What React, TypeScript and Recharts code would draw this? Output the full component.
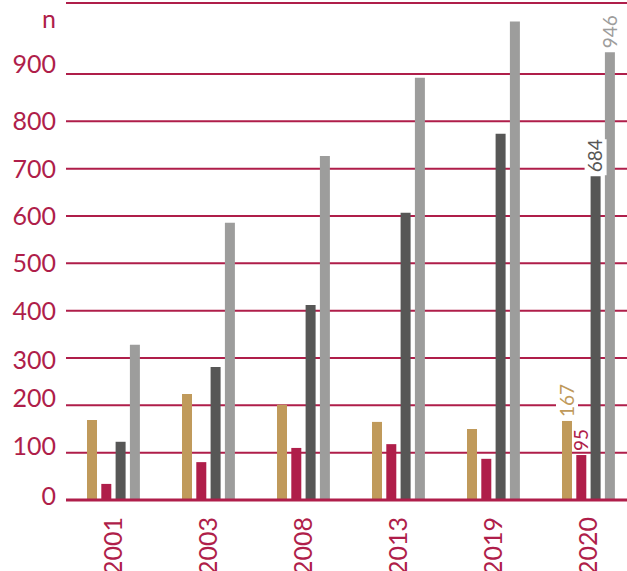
import { BarChart, Bar, XAxis, YAxis, CartesianGrid, LabelList } from 'recharts'

const years = ['2001', '2003', '2008', '2013', '2019', '2020']
const goldValues = [169, 224, 201, 165, 150, 167]
const redValues = [34, 80, 110, 118, 87, 95]
const darkValues = [123, 281, 412, 607, 774, 684]
const greyValues = [328, 586, 727, 892, 1011, 946]
const yTicks = [0, 100, 200, 300, 400, 500, 600, 700, 800, 900]

const CRIMSON = '#AF1E4A'
const GOLD = '#C09A5B'
const DARK = '#575756'
const GREY = '#9D9D9C'
const FONT = 'Lato, "Open Sans", sans-serif'

const last = years.length - 1

// only the latest year carries a value label
const data = years.map((year, i) => ({
  year,
  gold: goldValues[i],
  red: redValues[i],
  dark: darkValues[i],
  grey: greyValues[i],
  goldLabel: i === last ? goldValues[i] : undefined,
  redLabel: i === last ? redValues[i] : undefined,
  darkLabel: i === last ? darkValues[i] : undefined,
  greyLabel: i === last ? greyValues[i] : undefined,
}))

// small per-tick nudges for the value axis labels
const tickNudge: Record<number, number> = { 0: -4, 100: -7, 200: -7, 300: 2, 900: -10 }

function ValueTick({ x, y, payload }: any) {
  const dy = tickNudge[payload.value] ?? 0
  return (
    <text x={x} y={y + dy} dy="0.36em" textAnchor="end" fill={CRIMSON} fontSize={25} fontFamily={FONT}>
      {payload.value}
    </text>
  )
}

function YearTick({ x, y, payload }: any) {
  return (
    <text
      transform={`translate(${x - 1},${y + 17}) rotate(-90)`}
      textAnchor="end"
      dy="0.36em"
      fill={CRIMSON}
      fontSize={25}
      fontFamily={FONT}
    >
      {payload.value}
    </text>
  )
}

const valueLabel = (color: string, withBg: boolean) => (props: any) => {
  const { x, y, width, value } = props
  if (value == null) return null
  const cx = Number(x) + Number(width) / 2
  const base = Number(y) - 4
  const len = String(value).length * 10
  return (
    <g>
      {withBg && <rect x={cx - 11} y={base - len - 3} width={22} height={len + 6} fill="#fff" />}
      <text
        transform={`translate(${cx},${base}) rotate(-90)`}
        textAnchor="start"
        dy="0.36em"
        fill={color}
        fontSize={19}
        fontFamily={FONT}
      >
        {value}
      </text>
    </g>
  )
}

export default function App() {
  return (
    <div
      style={{
        position: 'absolute',
        left: 0,
        top: 0,
        width: 627,
        height: 571,
        overflow: 'hidden',
        background: '#fff',
      }}
    >
      <BarChart
        width={636}
        height={571}
        data={data}
        margin={{ top: 3, right: 0, bottom: 0, left: 0 }}
        barGap={4.3}
        style={{ fontFamily: FONT }}
      >
        <CartesianGrid horizontal vertical={false} stroke={CRIMSON} strokeWidth={2} />
        <XAxis
          dataKey="year"
          height={71}
          tick={<YearTick />}
          tickLine={false}
          tickSize={0}
          tickMargin={0}
          axisLine={{ stroke: CRIMSON, strokeWidth: 3 }}
          interval={0}
        />
        <YAxis
          width={66}
          domain={[0, 1050]}
          ticks={yTicks}
          interval={0}
          tick={<ValueTick />}
          tickLine={false}
          tickSize={0}
          tickMargin={10}
          axisLine={false}
          label={{
            content: () => (
              <text x={42} y={28} fill={CRIMSON} fontSize={25} fontFamily={FONT}>
                n
              </text>
            ),
          }}
        />
        <Bar dataKey="gold" fill={GOLD} barSize={10} isAnimationActive={false}>
          <LabelList dataKey="goldLabel" content={valueLabel(GOLD, true)} />
        </Bar>
        <Bar dataKey="red" fill={CRIMSON} barSize={10} isAnimationActive={false}>
          <LabelList dataKey="redLabel" content={valueLabel(CRIMSON, false)} />
        </Bar>
        <Bar dataKey="dark" fill={DARK} barSize={10} isAnimationActive={false}>
          <LabelList dataKey="darkLabel" content={valueLabel(DARK, true)} />
        </Bar>
        <Bar dataKey="grey" fill={GREY} barSize={10} isAnimationActive={false}>
          <LabelList dataKey="greyLabel" content={valueLabel(GREY, false)} />
        </Bar>
      </BarChart>
    </div>
  )
}
